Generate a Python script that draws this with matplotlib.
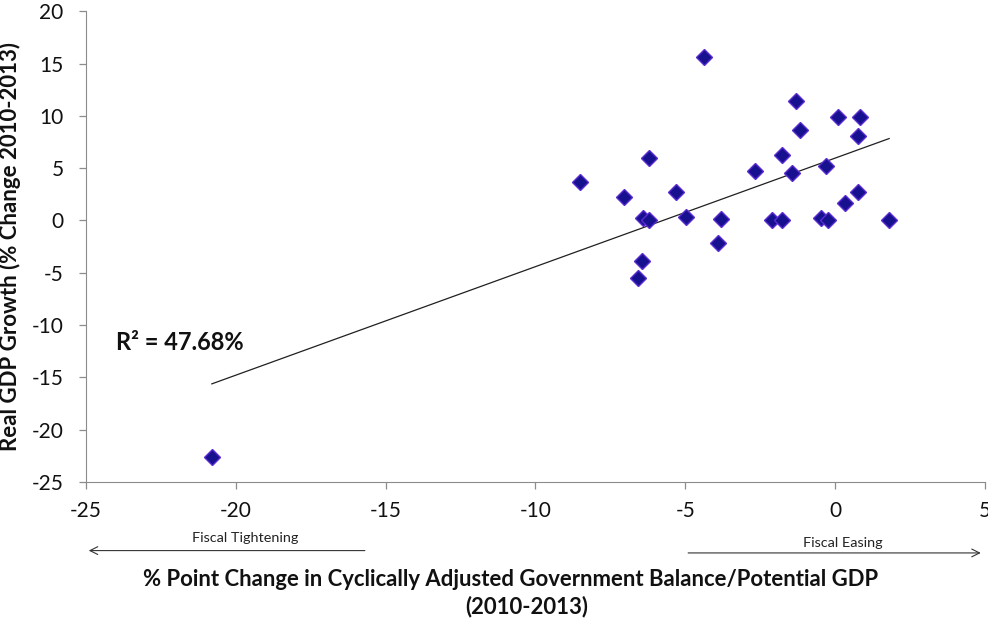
"""Scatter of fiscal balance change vs real GDP growth, 2010-2013."""

import matplotlib

matplotlib.use("Agg")
import matplotlib.pyplot as plt
import numpy as np

# % point change in cyclically adjusted balance / potential GDP
balance_change = [
    -20.8, -8.5, -7.06, -6.22, -6.4, -6.2, -6.45, -6.57, -5.3, -4.99,
    -4.39, -3.82, -3.9, -2.68, -2.12, -1.76, -1.77, -1.43, -1.32, -1.18,
    -0.49, -0.23, -0.32, 0.1, 0.33, 0.76, 0.76, 0.83, 1.8,
]
# real GDP growth, % change 2010-2013
gdp_growth = [
    -22.6, 3.67, 2.24, 5.96, 0.2, 0.0, -3.85, -5.53, 2.68, 0.35,
    15.64, 0.1, -2.19, 4.75, 0.0, 0.0, 6.25, 4.5, 11.43, 8.63,
    0.2, 0.0, 5.2, 9.85, 1.63, 2.68, 8.06, 9.9, 0.0,
]
r2_label = "R\u00b2 = 47.68%"
x_title = "% Point Change in Cyclically Adjusted Government Balance/Potential GDP"
x_period = "(2010-2013)"

plt.rcParams["font.family"] = ["Lato", "DejaVu Sans"]
plt.rcParams["axes.unicode_minus"] = False

fig = plt.figure(figsize=(9.88, 6.25), dpi=100)
ax = fig.add_axes([0.087, 0.229, 0.910, 0.753])

x = np.array(balance_change)
y = np.array(gdp_growth)

slope, intercept = np.polyfit(x, y, 1)
xs = np.array([x.min(), x.max()])
ax.plot(xs, slope * xs + intercept, color="#202020", lw=0.9, zorder=2)

ax.plot(x, y, ls="none", marker="D", ms=8.2, mfc="#17108f", mec="#5a2bd0",
        mew=1.0, zorder=3)

ax.set_xlim(-25, 5)
ax.set_ylim(-25, 20)
ax.set_xticks(np.arange(-25, 6, 5))
ax.set_yticks(np.arange(-25, 21, 5))

for side in ("top", "right"):
    ax.spines[side].set_visible(False)
for side in ("left", "bottom"):
    ax.spines[side].set_color("#8c8c8c")
ax.tick_params(axis="both", direction="out", length=5, width=0.9,
               color="#8c8c8c", labelsize=15, labelcolor="#111111")
ax.tick_params(axis="x", pad=9)
ax.tick_params(axis="y", pad=11)

ax.text(-24.0, -11.7, r2_label, fontsize=17, fontweight="bold",
        color="#111111", va="center")

ax.set_ylabel("Real GDP Growth (% Change 2010-2013)", fontsize=16,
              fontweight="bold", color="#111111")
ax.yaxis.set_label_coords(-0.072, 0.5)

# two-line x title, placed in figure pixels like the original
fig.text(511 / 988, 1 - 580 / 625, x_title, fontsize=15.9, fontweight="bold",
         color="#111111", ha="center", va="center")
fig.text(527 / 988, 1 - 607 / 625, x_period, fontsize=15.9, fontweight="bold",
         color="#111111", ha="center", va="center")

# fiscal direction arrows under the axis
trans = ax.get_xaxis_transform()
arrow = dict(arrowstyle="->", color="#333333", lw=0.8, mutation_scale=14)
ax.annotate("", xy=(-25, -0.146), xytext=(-15.6, -0.146), xycoords=trans,
            textcoords=trans, arrowprops=arrow, annotation_clip=False)
ax.annotate("", xy=(4.95, -0.151), xytext=(-5.0, -0.151), xycoords=trans,
            textcoords=trans, arrowprops=arrow, annotation_clip=False)
ax.text(-19.7, -0.119, "Fiscal Tightening", transform=trans, fontsize=10.4,
        ha="center", va="center", color="#222222")
ax.text(0.26, -0.130, "Fiscal Easing", transform=trans, fontsize=10.4,
        ha="center", va="center", color="#222222")

fig.savefig("out.png", dpi=100)
